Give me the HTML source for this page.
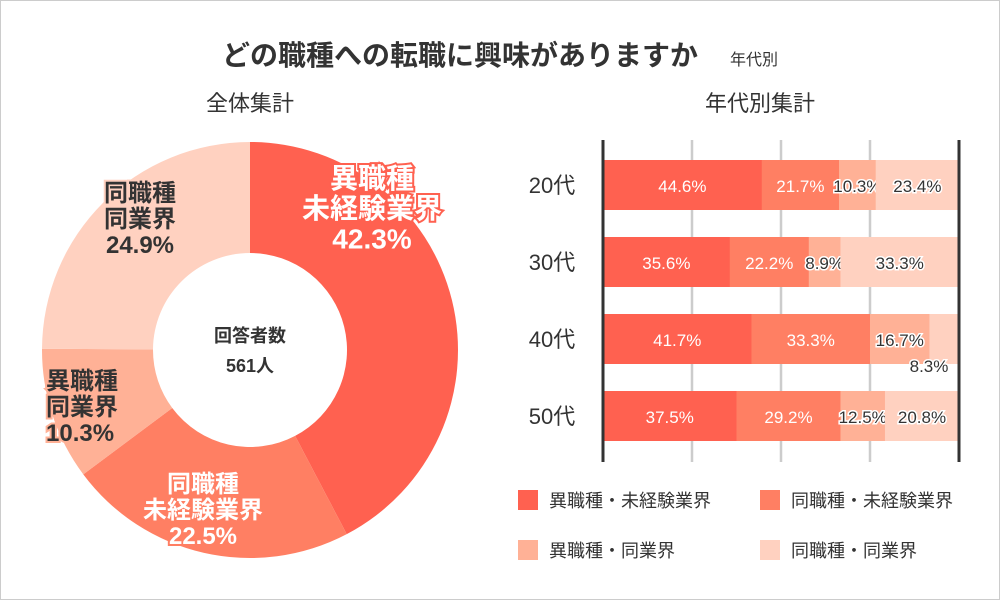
<!DOCTYPE html>
<html><head><meta charset="utf-8"><style>
html,body{margin:0;padding:0;background:#fff}
body{width:1000px;height:600px;overflow:hidden;font-family:"Liberation Sans","Noto Sans CJK JP",sans-serif}
</style></head><body>
<svg id="c" width="1000" height="600" xmlns="http://www.w3.org/2000/svg" font-family="'Liberation Sans','Noto Sans CJK JP',sans-serif">
<rect x="0.5" y="0.5" width="999" height="599" fill="#fff" stroke="#ccc"/>
<text x="460" y="65" font-size="28" font-weight="bold" fill="#333" text-anchor="middle">どの職種への転職に興味がありますか</text>
<text x="730" y="65" font-size="16" fill="#333">年代別</text>
<text x="250" y="111" font-size="22" fill="#333" text-anchor="middle">全体集計</text>
<text x="760" y="111" font-size="22" fill="#333" text-anchor="middle">年代別集計</text>
<g id="donut"></g>
<g id="bars"></g>
<g id="legend"></g>
</svg>
<script>
const categories=["異職種・未経験業界","同職種・未経験業界","異職種・同業界","同職種・同業界"];
const colors=["#FF6150","#FF7F63","#FFB196","#FFD1C0"];
const totalValues=[42.3,22.5,10.3,24.9];
const ages=["20代","30代","40代","50代"];
const s1=[44.6,35.6,41.7,37.5];
const s2=[21.7,22.2,33.3,29.2];
const s3=[10.3,8.9,16.7,12.5];
const s4=[23.4,33.3,8.3,20.8];
const NS="http://www.w3.org/2000/svg";
function mk(tag,attrs,parent){const e=document.createElementNS(NS,tag);for(const k in attrs)e.setAttribute(k,attrs[k]);parent.appendChild(e);return e;}
const dg=document.getElementById('donut');
const cx=250,cy=350,R=208,r=97;
let acc=0;const tot=totalValues.reduce((a,b)=>a+b,0);
const donutLabels=[["異職種","未経験業界"],["同職種","未経験業界"],["異職種","同業界"],["同職種","同業界"]];
const labelPos=[[372,188,"#fff",28,"middle"],[203,492,"#fff",24,"middle"],[46,389,"#333",24,"start"],[140,201,"#333",24,"middle"]];
totalValues.forEach((v,i)=>{
 const a0=acc/tot*2*Math.PI;acc+=v;const a1=acc/tot*2*Math.PI;
 const p=(a,rr)=>[cx+rr*Math.sin(a),cy-rr*Math.cos(a)];
 const [x0,y0]=p(a0,R),[x1,y1]=p(a1,R),[x2,y2]=p(a1,r),[x3,y3]=p(a0,r);
 const lg=(a1-a0)>Math.PI?1:0;
 const path=mk('path',{d:`M${x0},${y0}A${R},${R} 0 ${lg} 1 ${x1},${y1}L${x2},${y2}A${r},${r} 0 ${lg} 0 ${x3},${y3}Z`,fill:colors[i]},dg);
 
 
 const [lx,ly,col,fs,anc]=labelPos[i];
 const t=mk('text',{x:lx,y:ly,'font-size':fs,'font-weight':'bold',fill:col,'text-anchor':anc,stroke:colors[i],'stroke-width':4,'paint-order':'stroke'},dg);
 
 
 [donutLabels[i][0],donutLabels[i][1],v.toFixed(1)+"%"].forEach((s,j)=>{const ts=mk('tspan',{x:lx,dy:j?fs*1.08:0},t);ts.textContent=s;});
});
const c1=mk('text',{x:cx,y:342,'font-size':18,'font-weight':'bold',fill:'#333','text-anchor':'middle'},dg);c1.textContent="回答者数";


const c2=mk('text',{x:cx,y:372,'font-size':18,'font-weight':'bold',fill:'#333','text-anchor':'middle'},dg);c2.textContent="561人";


const bg=document.getElementById('bars');
const X0=603,X1=959;const xs=v=>X0+(X1-X0)*v/100;
const rowY=[160,237,314,391],BH=50;
[25,50,75].forEach(g=>{const l=mk('line',{x1:xs(g),x2:xs(g),y1:140,y2:462,stroke:'#ccc','stroke-width':2.5},bg);

});
const series=[s1,s2,s3,s4];
ages.forEach((a,ri)=>{
 const y=rowY[ri];let c=0;
 const lt=mk('text',{x:552,y:y+BH/2+8,'font-size':22,fill:'#333','text-anchor':'middle'},bg);lt.textContent=a;
 
 
 const segs=series.map(s=>s[ri]);const sum=segs.reduce((p,q)=>p+q,0);
 segs.forEach((v,si)=>{
  const w=v/sum*100;
  const rc=mk('rect',{x:xs(c),y:y,width:xs(c+w)-xs(c)+0.5,height:BH,fill:colors[si]},bg);
  
  
  let tx=(xs(c)+xs(c+w))/2,ty=y+BH/2+7;
  if(w<8.6){ty=y+BH+8;tx=xs(c+w)-30;tx=Math.min(tx+2,X1-30);}
  const t=mk('text',{x:tx,y:ty,'font-size':17,fill:si<2?'#fff':'#333','text-anchor':'middle'},bg);
  if(si>=2){t.setAttribute('stroke','#fff');t.setAttribute('stroke-width','3');t.setAttribute('paint-order','stroke');}
  t.textContent=v.toFixed(1)+"%";
  
  
  c+=w;
 });
});
[X0,X1].forEach(x=>{const l=mk('line',{x1:x,x2:x,y1:140,y2:462,stroke:'#333','stroke-width':3},bg);

});
const lgG=document.getElementById('legend');
const lp=[[518,490],[760,490],[518,540],[760,540]];
categories.forEach((cat,i)=>{
 const g=mk('g',{},lgG);
 
 
 mk('rect',{x:lp[i][0],y:lp[i][1],width:20,height:20,fill:colors[i]},g);
 const t=mk('text',{x:lp[i][0]+31,y:lp[i][1]+17,'font-size':18,fill:'#333'},g);t.textContent=cat;
});
</script>
</body></html>
